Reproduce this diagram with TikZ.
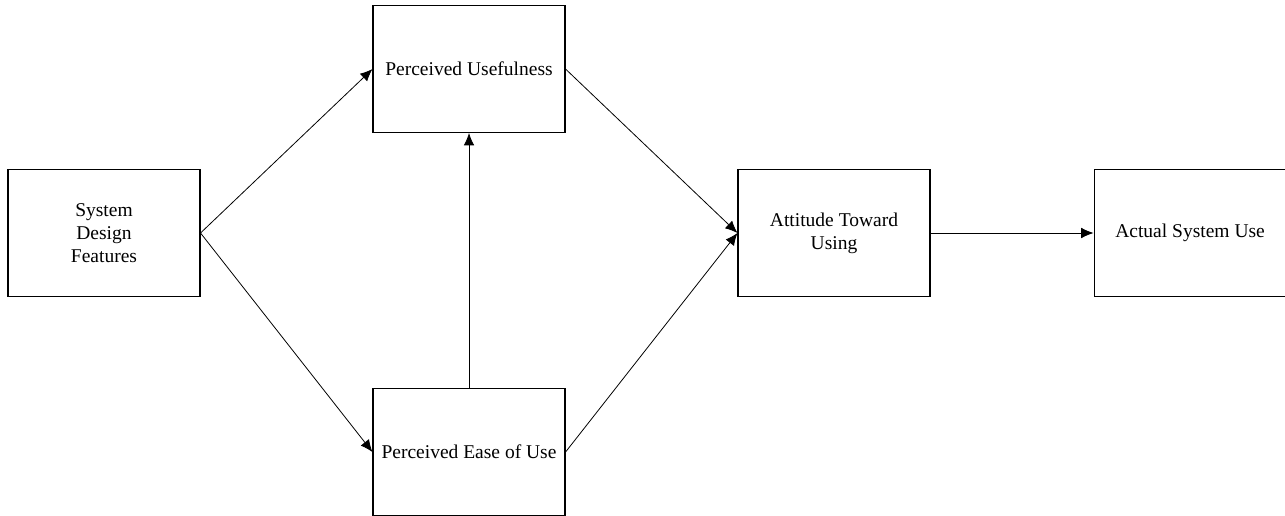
\documentclass[tikz,border=0pt]{standalone}
\usepackage{fontspec}
\setmainfont{Liberation Serif}
\usetikzlibrary{arrows.meta, positioning}
\tikzset{
  box/.style = {rectangle, draw=black, line width=0.6pt, minimum width=3.84cm, minimum height=2.54cm, align=center, font=\fontsize{11.1}{13}\selectfont, inner sep=2pt},
  arr/.style = {-{Latex[length=7pt, width=6pt]}, line width=0.45pt}
}
\begin{document}
\begin{tikzpicture}
\useasboundingbox (0,0) rectangle (25.7,-10.3);
% Left column
\node[box] (sdf) at (2.08,-4.66) {System\\Design\\Features};

% Middle column
\node[box] (pu) at (9.38,-1.38) {Perceived Usefulness};
\node[box, below=5.1cm of pu] (peou) {Perceived Ease of Use};

% Right column
\node[box] (atu) at (16.68,-4.66) {Attitude Toward\\Using};
\node[box, right=3.26cm of atu] (asu) {Actual System Use};

% ----- ARROWS -----
\draw[arr] (sdf.east) -- (pu.west);
\draw[arr] (sdf.east) -- (peou.west);
\draw[arr] (peou.north) -- (pu.south);
\draw[arr] (pu.east) -- (atu.west);
\draw[arr] (peou.east) -- (atu.west);
\draw[arr] (atu.east) -- (asu.west);

\end{tikzpicture}
\end{document}
